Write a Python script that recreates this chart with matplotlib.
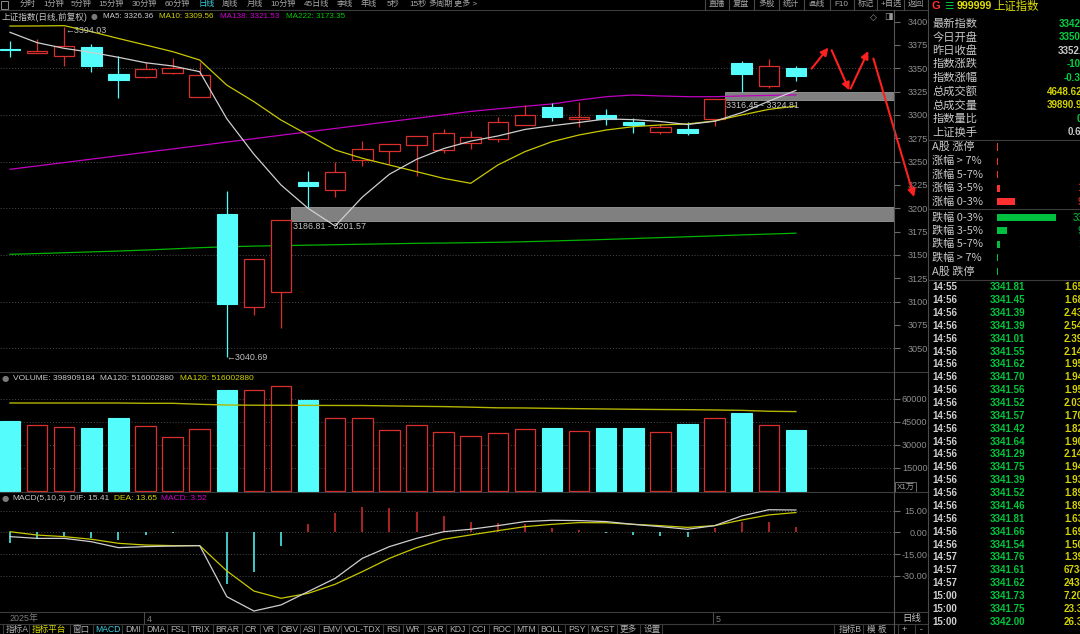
import matplotlib
matplotlib.use("Agg")
import matplotlib.pyplot as plt
from matplotlib.patches import Rectangle
from matplotlib.lines import Line2D
from matplotlib.transforms import blended_transform_factory
import numpy as np

W, H, DPI = 1080, 634, 100

# ---------------- data ----------------
dates = ["2025-03-25", "2025-03-26", "2025-03-27", "2025-03-28", "2025-03-31",
         "2025-04-01", "2025-04-02", "2025-04-03", "2025-04-07", "2025-04-08",
         "2025-04-09", "2025-04-10", "2025-04-11", "2025-04-14", "2025-04-15",
         "2025-04-16", "2025-04-17", "2025-04-18", "2025-04-21", "2025-04-22",
         "2025-04-23", "2025-04-24", "2025-04-25", "2025-04-28", "2025-04-29",
         "2025-04-30", "2025-05-06", "2025-05-07", "2025-05-08", "2025-05-09"]
opens = [3370.6, 3366.1, 3363.2, 3373.2, 3343.6, 3340.7, 3344.6, 3319.3, 3193.6, 3094.0,
         3110.0, 3228.2, 3220.0, 3251.8, 3261.0, 3268.2, 3262.1, 3270.4, 3273.9, 3289.6,
         3308.9, 3295.4, 3300.4, 3292.5, 3281.8, 3284.6, 3295.4, 3355.4, 3331.4, 3350.7]
highs = [3379.6, 3381.4, 3394.03, 3376.0, 3363.2, 3357.0, 3361.4, 3357.1, 3218.6, 3145.5,
         3187.1, 3240.0, 3249.3, 3272.5, 3268.6, 3277.1, 3285.4, 3282.9, 3298.2, 3310.7,
         3312.9, 3313.6, 3306.0, 3297.1, 3290.0, 3292.9, 3316.8, 3357.5, 3359.6, 3352.5]
lows = [3362.5, 3366.0, 3352.5, 3346.4, 3318.6, 3339.9, 3344.0, 3319.3, 3040.69, 3085.7,
        3071.4, 3201.8, 3212.1, 3245.7, 3247.0, 3234.6, 3258.9, 3263.2, 3271.4, 3289.6,
        3293.9, 3287.5, 3289.6, 3281.1, 3279.5, 3278.6, 3288.2, 3325.0, 3328.6, 3336.0]
closes = [3370.0, 3368.9, 3373.9, 3352.5, 3337.1, 3348.9, 3350.7, 3342.9, 3097.1, 3145.4,
          3187.1, 3224.3, 3238.6, 3263.2, 3268.6, 3277.1, 3280.4, 3276.8, 3292.1, 3300.4,
          3297.5, 3297.5, 3295.7, 3289.3, 3286.8, 3280.4, 3316.8, 3343.9, 3352.5, 3342.0]
ma5 = [3388.6, 3377.5, 3371.4, 3367.1, 3361.8, 3356.0, 3352.5, 3346.4, 3296.0, 3258.0,
       3225.0, 3200.0, 3181.0, 3212.0, 3236.5, 3252.5, 3264.0, 3272.0, 3277.5, 3284.5,
       3288.5, 3292.0, 3295.8, 3295.0, 3293.0, 3289.8, 3293.3, 3302.5, 3314.8, 3326.36]
ma10 = [3395.3, 3395.4, 3395.7, 3389.3, 3382.0, 3375.0, 3367.9, 3358.9, 3332.0, 3314.3,
        3294.6, 3278.6, 3262.5, 3253.6, 3246.4, 3239.3, 3232.1, 3226.8, 3246.4, 3260.7,
        3271.4, 3278.6, 3283.9, 3287.5, 3289.3, 3290.4, 3293.6, 3300.0, 3306.0, 3309.56]
ma138 = [3241.8, 3245.4, 3249.0, 3252.7, 3256.3, 3260.0, 3263.6, 3267.3, 3271.0, 3274.6,
         3278.3, 3281.9, 3285.6, 3289.2, 3292.9, 3296.5, 3300.2, 3303.8, 3306.6, 3309.3,
         3311.8, 3316.0, 3319.6, 3321.4, 3320.4, 3319.6, 3319.6, 3320.4, 3321.0, 3321.53]
ma222 = [3150.7, 3151.5, 3152.4, 3153.3, 3154.2, 3155.3, 3156.5, 3157.8, 3158.8, 3159.5,
         3160.0, 3160.5, 3161.0, 3161.5, 3162.0, 3162.5, 3162.8, 3163.2, 3163.6, 3164.2,
         3165.0, 3165.8, 3166.7, 3167.6, 3168.6, 3169.5, 3170.5, 3171.5, 3172.4, 3173.35]
volume = [45650, 42640, 41350, 41090, 47220, 42000, 34830, 40050, 65870, 65670,
          68090, 58960, 47610, 47220, 39390, 42650, 38090, 35870, 37630, 40050,
          41090, 39130, 41090, 41090, 38480, 43300, 47220, 50870, 42650, 39891]
vol_ma120 = [57200, 57200, 57200, 57200, 57200, 57000, 57000, 56350, 55900, 55750,
             55700, 55650, 55600, 55550, 55300, 55050, 54850, 54500, 54050, 53950,
             53700, 53500, 53300, 53100, 52950, 52850, 52650, 52400, 51800, 51600]
dif = [-3.0, -4.2, -4.2, -6.5, -10.6, -9.9, -9.5, -9.2, -44.5, -54.4,
       -50.2, -41.0, -31.8, -18.0, -9.9, -4.2, 0.4, 2.1, 4.6, 7.4,
       8.3, 8.1, 7.4, 5.5, 3.9, 2.1, 4.6, 11.3, 15.6, 15.41]
dea = [0.4, -1.9, -3.0, -4.8, -7.6, -8.8, -9.2, -9.2, -26.7, -40.6,
       -45.6, -42.2, -35.9, -27.2, -18.0, -10.6, -4.8, -1.8, 1.1, 3.9,
       5.5, 6.7, 6.6, 5.5, 4.6, 3.4, 4.6, 8.5, 12.0, 13.65]
macd = [-7.2, -4.8, -2.5, -4.2, -5.3, -1.8, -0.3, 0.2, -35.9, -27.6,
        -9.5, 5.5, 13.1, 17.3, 16.6, 13.8, 11.3, 7.4, 6.2, 5.5,
        3.2, 1.4, -0.2, -1.8, -2.3, -3.5, 2.8, 6.9, 7.4, 3.52]

# support / resistance bands: (start candle, low, high)
bands = [(10, 3186.81, 3201.57), (26, 3316.45, 3324.81)]
# hand-drawn red arrows: (x0, y0) -> (x1, y1) in (candle index, price)
arrows = [((29.58, 3349.7), (30.2, 3372.2)),
          ((30.32, 3369.3), (30.97, 3326.4)),
          ((31.02, 3328.3), (31.67, 3368.6)),
          ((31.86, 3360.5), (33.36, 3212.1))]

price_ticks = list(range(3050, 3401, 25))
vol_ticks = [15000, 30000, 45000, 60000]
macd_ticks = [15, 0, -15, -30]

top_tabs = ["分时", "1分钟", "5分钟", "15分钟", "30分钟", "60分钟", "日线", "周线", "月线",
            "10分钟", "45日线", "季线", "年线", "5秒", "15秒", "多周期", "更多 >"]
top_buttons = ["直播", "复盘", "多股", "统计", "画线", "F10", "标记", "+自选", "返回"]
bottom_tabs = ["指标A", "指标平台", "窗口", "MACD", "DMI", "DMA", "FSL", "TRIX", "BRAR", "CR",
               "VR", "OBV", "ASI", "EMV", "VOL-TDX", "RSI", "WR", "SAR", "KDJ", "CCI", "ROC",
               "MTM", "BOLL", "PSY", "MCST", "更多", "设置"]

info_labels = ["最新指数", "今日开盘", "昨日收盘", "指数涨跌", "指数涨幅", "总成交额", "总成交量", "指数量比", "上证换手"]
info_values = ["3342.00", "3350.76", "3352.00", "-10.00", "-0.30%", "4648.62", "39890.9", "0.95", "0.69"]
up_labels = ["A股 涨停", "涨幅 > 7%", "涨幅 5-7%", "涨幅 3-5%", "涨幅 0-3%"]
up_counts = [1, 1, 1, 3, 18]
up_nums = ["", "", "", "1", "9"]
dn_labels = ["跌幅 0-3%", "跌幅 3-5%", "跌幅 5-7%", "跌幅 > 7%", "A股 跌停"]
dn_counts = [59, 10, 3, 1, 1]
dn_nums = ["33", "9", "1", "", ""]

tick_times = ["14:55"] + ["14:56"] * 20 + ["14:57"] * 3 + ["15:00"] * 3
tick_prices = ["3341.81", "3341.45", "3341.39", "3341.39", "3341.01", "3341.55", "3341.62",
               "3341.70", "3341.56", "3341.52", "3341.57", "3341.42", "3341.64", "3341.29",
               "3341.75", "3341.39", "3341.52", "3341.46", "3341.81", "3341.66", "3341.54",
               "3341.76", "3341.61", "3341.62", "3341.73", "3341.75", "3342.00"]
tick_vols = ["1.65", "1.68", "2.43", "2.54", "2.39", "2.14", "1.95", "1.94", "1.95", "2.03",
             "1.70", "1.82", "1.90", "2.14", "1.94", "1.93", "1.89", "1.89", "1.63", "1.69",
             "1.50", "1.39", "6734", "2438", "7.20", "23.3", "26.3"]

# ---------------- styling ----------------
RED = "#d8302c"
CYAN = "#54fcfc"
GRAYTXT = "#b8b8b8"
AXTXT = "#8e8e8e"
SEP = "#3c3c3c"
GRID = "#4a4a4a"
LAT = ["Liberation Sans", "Noto Sans CJK SC", "DejaVu Sans"]
CJK = ["Noto Sans CJK SC", "DejaVu Sans"]

PITCH = 27.1      # px per candle
X0 = 10.0         # px of first candle
AX_R = 894.0      # px of chart right edge
BW = 0.76

fig = plt.figure(figsize=(W / DPI, H / DPI), dpi=DPI, facecolor="black")


def fx(x):
    return x / W


def fy(y):
    return 1 - y / H


def T(x, y, s, c=GRAYTXT, size=6.5, fam=LAT, ha="left", va="center", weight="normal"):
    fig.text(fx(x), fy(y), s, color=c, fontsize=size, family=fam, ha=ha, va=va,
             fontweight=weight)


def hline(y, x0, x1, c=SEP, lw=0.8):
    fig.add_artist(Line2D([fx(x0), fx(x1)], [fy(y), fy(y)], color=c, lw=lw,
                          transform=fig.transFigure))


def vline(x, y0, y1, c=SEP, lw=0.8):
    fig.add_artist(Line2D([fx(x), fx(x)], [fy(y0), fy(y1)], color=c, lw=lw,
                          transform=fig.transFigure))


def add_ax(y0, y1, ylim):
    a = fig.add_axes([0, fy(y1), AX_R / W, (y1 - y0) / H])
    a.set_facecolor("black")
    for s in a.spines.values():
        s.set_visible(False)
    a.set_xlim(-X0 / PITCH, (AX_R - X0) / PITCH)
    a.set_ylim(*ylim)
    a.set_xticks([])
    a.yaxis.tick_right()
    return a


def style_ticks(a, ticks, fmt):
    a.set_yticks(ticks)
    a.set_yticklabels([fmt(t) for t in ticks])
    a.tick_params(axis="y", colors="#6a6a6a", length=4, width=0.8, pad=20.2,
                  labelcolor=AXTXT, labelsize=6.6)
    for lbl in a.get_yticklabels():
        lbl.set_ha("right")
        lbl.set_family(LAT)


n = len(closes)
idx = np.arange(n)

# ---------------- main price panel ----------------
ax = add_ax(10, 372, (3024.6, 3412.5))
style_ticks(ax, price_ticks, lambda v: f"{v}")
for g in range(3050, 3351, 50):
    ax.axhline(g, color=GRID, lw=0.7, ls=(0, (1, 2)), zorder=0)

xr = ax.get_xlim()[1]
for start, lo, hi in bands:
    x_start = start + BW / 2
    ax.add_patch(Rectangle((x_start, lo), xr - x_start, hi - lo, facecolor="#808080",
                           edgecolor="#9a9a9a", lw=0.6, zorder=1))
    ax.text(x_start + 0.05, lo - 6.5, f"{lo:.2f} - {hi:.2f}", color="#c8c8c8",
            fontsize=6.4, family=LAT, va="center", ha="left", zorder=6)

ax.plot(idx, ma222, color="#00b400", lw=0.9, zorder=2)
ax.plot(idx, ma138, color="#c000c0", lw=0.9, zorder=2)

for i in range(n):
    o, h, l, c = opens[i], highs[i], lows[i], closes[i]
    top, bot = max(o, c), min(o, c)
    if c > o:
        ax.vlines(i, top, h, color=RED, lw=0.9, zorder=3)
        ax.vlines(i, l, bot, color=RED, lw=0.9, zorder=3)
        ax.add_patch(Rectangle((i - BW / 2, bot), BW, max(top - bot, 0.6), facecolor="black",
                               edgecolor=RED, lw=0.9, zorder=3))
    else:
        ax.vlines(i, l, h, color=CYAN, lw=0.9, zorder=3)
        ax.add_patch(Rectangle((i - BW / 2, bot), BW, max(top - bot, 0.9), facecolor=CYAN,
                               edgecolor=CYAN, lw=0.8, zorder=3))

ax.plot(idx, ma10, color="#c8c800", lw=0.9, zorder=4)
ax.plot(idx, ma5, color="#cfcfcf", lw=0.9, zorder=4)

imax = int(np.argmax(highs))
imin = int(np.argmin(lows))
ax.text(imax + 0.03, highs[imax] - 3.5, f"←{highs[imax]:.2f}", color="#c0c0c0", fontsize=6.4,
        family=LAT, va="center", ha="left", zorder=6)
ax.text(imin - 0.02, lows[imin] - 0.8, f"←{lows[imin]:.2f}", color="#c0c0c0", fontsize=6.4,
        family=LAT, va="center", ha="left", zorder=6)

for (p0, p1) in arrows:
    ax.annotate("", xy=p1, xytext=p0, annotation_clip=False, zorder=7,
                arrowprops=dict(arrowstyle="-|>", color="#ff2020", lw=1.5,
                                mutation_scale=11, shrinkA=0, shrinkB=0))

# ---------------- volume panel ----------------
axv = add_ax(372, 492, (-848, 77416))
style_ticks(axv, vol_ticks, lambda v: f"{v}")
for g in vol_ticks:
    axv.axhline(g, color=GRID, lw=0.7, ls=(0, (1, 2)), zorder=0)
for i in range(n):
    if closes[i] > opens[i]:
        axv.bar(i, volume[i], width=BW, facecolor="black", edgecolor=RED, lw=0.9, zorder=2)
    else:
        axv.bar(i, volume[i], width=BW, facecolor=CYAN, edgecolor=CYAN, lw=0.8, zorder=2)
axv.plot(idx, vol_ma120, color="#b4b400", lw=1.0, zorder=3)

# ---------------- MACD panel ----------------
axm = add_ax(492, 612, (-55.08, 27.85))
style_ticks(axm, macd_ticks, lambda v: f"{v:.2f}")
for g in macd_ticks:
    axm.axhline(g, color=GRID, lw=0.7, ls=(0, (1, 2)), zorder=0)
axm.vlines(idx, 0, macd, colors=[RED if m > 0 else CYAN for m in macd], lw=1.1, zorder=2)
axm.plot(idx, dea, color="#c8c800", lw=0.9, zorder=3)
axm.plot(idx, dif, color="#cfcfcf", lw=0.9, zorder=3)

# ---------------- separators / frame ----------------
hline(10, 0, 928)
hline(372, 0, 928)
hline(492, 0, 928)
hline(612, 0, 928)
hline(624, 0, 928)
vline(AX_R, 10, 634, c="#555555")
vline(928, 0, 634, c="#4a4a4a")

# ---------------- top toolbar ----------------
fig.add_artist(Rectangle((fx(1), fy(9)), 7 / W, 8 / H, facecolor="none", edgecolor="#8a8a8a",
                         lw=0.7, transform=fig.transFigure))
tab_x = [19.6, 43.7, 70.6, 98.8, 131.9, 164.6, 198, 222, 246.9, 270.3, 303.7, 336.4, 360.9,
         386.7, 409, 428.7, 454.5]
for s, x in zip(top_tabs, tab_x):
    T(x, 4, s, c="#3ad0e0" if s == "日线" else "#a8a8a8", size=5.9)
btn_x = [709, 733, 758, 783, 808, 834, 858, 881, 908]
for s, x in zip(top_buttons, btn_x):
    T(x, 4, s, c="#a8a8a8", size=5.9)
    vline(x - 4, 0, 9.5, c="#4a4a4a")

# chart header
T(2, 17, "上证指数(日线,前复权)", c="#c8c8c8", size=6.2)
T(91, 17, "●", c="#7a7a7a", size=5.6, fam=["DejaVu Sans"])
T(102.6, 17, "MA5: 3326.36", c="#d0d0d0", size=5.8)
T(159, 17, "MA10: 3309.56", c="#d4d400", size=5.8)
T(220.4, 17, "MA138: 3321.53", c="#d000d0", size=5.8)
T(286.5, 17, "MA222: 3173.35", c="#00c800", size=5.8)
T(870, 17, "◇", c="#9a9a9a", size=6.5, fam=["DejaVu Sans"])
T(884, 17, "◨", c="#9a9a9a", size=6.5, fam=["DejaVu Sans"])

# volume header
T(1.5, 378.5, "●", c="#7a7a7a", size=6, fam=["DejaVu Sans"])
T(12.7, 378.5, "VOLUME: 398909184", c="#c8c8c8", size=6)
T(100, 378.5, "MA120: 516002880", c="#c8c8c8", size=6)
T(180, 378.5, "MA120: 516002880", c="#d4d400", size=6)
fig.add_artist(Rectangle((fx(895), fy(492)), 21 / W, 10 / H, facecolor="black",
                         edgecolor="#6a6a6a", lw=0.7, transform=fig.transFigure))
T(897, 487, "X1万", c="#a0a0a0", size=5.8)

# MACD header
T(1.5, 498, "●", c="#7a7a7a", size=6, fam=["DejaVu Sans"])
T(12.7, 498, "MACD(5,10,3)", c="#c8c8c8", size=6)
T(70, 498, "DIF: 15.41", c="#c8c8c8", size=6)
T(114, 498, "DEA: 13.65", c="#d4d400", size=6)
T(161.3, 498, "MACD: 3.52", c="#d000d0", size=6)

# date row (uses the shared x scale)
tr = blended_transform_factory(axm.transData, fig.transFigure)
prev_month = None
for i, d in enumerate(dates):
    y, m = d[:4], int(d[5:7])
    if prev_month is None:
        fig.text(i, fy(619), f"{y}年", transform=tr, color="#7e7e7e", fontsize=6.4,
                 family=LAT, ha="left", va="center")
    elif m != prev_month:
        fig.add_artist(Line2D([i - 0.05, i - 0.05], [fy(612), fy(624)], transform=tr,
                              color="#4a4a4a", lw=0.8))
        fig.text(i + 0.03, fy(619), f"{m}", transform=tr, color="#7e7e7e", fontsize=6.4,
                 family=LAT, ha="left", va="center")
    prev_month = m
fig.add_artist(Rectangle((fx(894), fy(624)), 34 / W, 12 / H, facecolor="black",
                         edgecolor="#4a4a4a", lw=0.7, transform=fig.transFigure))
T(902, 618.5, "日线", c="#c0c0c0", size=6.8)

# bottom toolbar
bt_x = [6, 32, 72.7, 95.7, 125.3, 146, 170, 191, 215.7, 244.7, 263.3, 281, 302.7, 322.3, 344.3,
        386, 406, 426.7, 449.3, 471.7, 492.3, 516.7, 540.7, 568.3, 590.7, 620, 643.3]
for s, x in zip(bottom_tabs, bt_x):
    col = "#d4d400" if s == "指标平台" else ("#3ad0e0" if s == "MACD" else "#b0b0b0")
    T(x, 629.5, s, c=col, size=6.2)
    vline(x - 3, 624, 634, c="#3a3a3a")
vline(662, 624, 634, c="#3a3a3a")
for s, x in zip(["指标B", "模 板", "+", "-"], [838.3, 866.7, 901.7, 919.3]):
    T(x, 629.5, s, c="#b0b0b0", size=6.2)
    vline(x - 4, 624, 634, c="#3a3a3a")

# ---------------- right info panel ----------------
T(931, 6, "G", c="#ff3030", size=8, weight="bold")
T(944, 6, "☰", c="#00c040", size=7.5, fam=["DejaVu Sans"])
T(956.7, 6, "999999", c="#e0e000", size=7.6, weight="bold")
T(993, 6, "上证指数", c="#e0e000", size=8.2, fam=CJK)

info_y = [24, 37.3, 51, 64.3, 78.3, 91.7, 105.3, 118.7, 132.3]
info_x = [1059, 1059, 1058, 1066.7, 1064, 1047, 1047, 1077, 1068]
info_c = ["#00d040", "#00d040", "#c8c8c8", "#00d040", "#00d040", "#d4d400", "#d4d400",
          "#00d040", "#c8c8c8"]
for lab, val, y, x, c in zip(info_labels, info_values, info_y, info_x, info_c):
    T(932.3, y, lab, c="#c8c8c8", size=8.1, fam=CJK)
    T(x, y, val, c=c, size=7, weight="bold")

hline(140, 928, 1080)
hline(209.3, 928, 1080)
hline(280, 928, 1080)

up_y = [147, 161.3, 174.7, 188.3, 201.7]
dn_y = [217.7, 231, 244.3, 257.7, 271.7]
for lab, cnt, num, y in zip(up_labels, up_counts, up_nums, up_y):
    T(932.3, y, lab, c="#c8c8c8", size=8, fam=CJK)
    fig.add_artist(Rectangle((fx(997), fy(y + 3.5)), cnt / W, 7 / H, facecolor="#ff3030",
                             edgecolor="none", transform=fig.transFigure))
    if num:
        T(1077, y, num, c="#ff3030", size=7)
for lab, cnt, num, y in zip(dn_labels, dn_counts, dn_nums, dn_y):
    T(932.3, y, lab, c="#c8c8c8", size=8, fam=CJK)
    fig.add_artist(Rectangle((fx(997), fy(y + 3.5)), cnt / W, 7 / H, facecolor="#00c040",
                             edgecolor="none", transform=fig.transFigure))
    if num:
        T(1078 - 5.4 * (len(num) - 1), y, num, c="#00c040", size=7)

for k, (t, p, v) in enumerate(zip(tick_times, tick_prices, tick_vols)):
    y = 287.3 + k * 12.86
    T(932, y, t, c="#d0d0d0", size=7, weight="bold")
    T(989.3, y, p, c="#00c83c", size=7, weight="bold")
    T(1064, y, v, c="#d4d400", size=7, weight="bold")

fig.savefig("out.png", dpi=DPI, facecolor="black")
